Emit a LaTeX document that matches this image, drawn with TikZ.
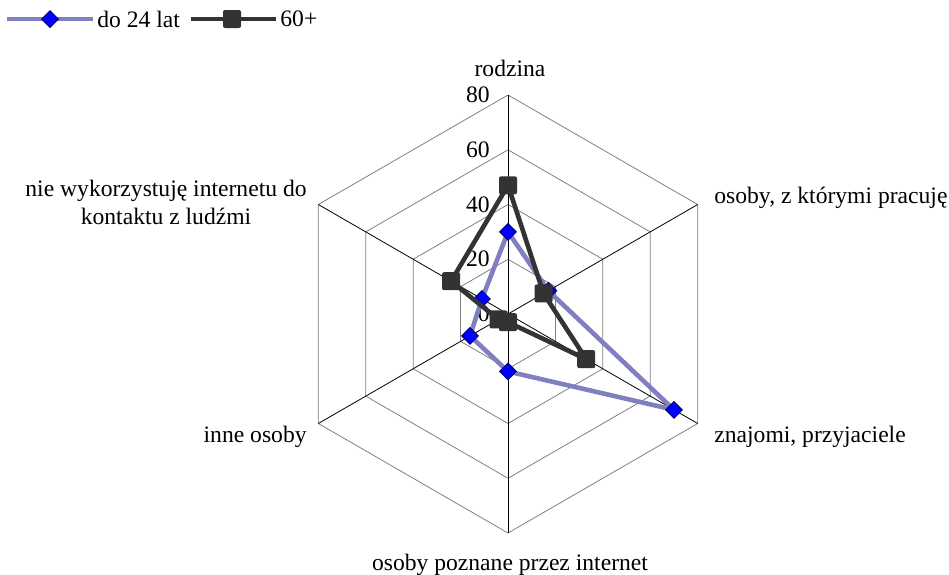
\documentclass[tikz,border=0pt]{standalone}
\usepackage{fontspec}
\setmainfont{Liberation Serif}
\usetikzlibrary{shapes.geometric}

\definecolor{youngline}{RGB}{128,128,192}
\definecolor{youngdot}{RGB}{0,0,255}
\definecolor{youngedge}{RGB}{0,0,128}
\definecolor{oldgray}{RGB}{51,51,51}

\begin{document}
\begin{tikzpicture}[x=0.5pt,y=0.5pt,
    ring/.style={draw=gray, line width=0.4pt},
    spoke/.style={draw=black, line width=0.4pt},
    young/.style={draw=youngline, line width=2.3pt, line join=round},
    old/.style={draw=oldgray, line width=2.3pt, line join=round},
    ydot/.style={diamond, draw=youngedge, fill=youngdot, line width=0.5pt,
      inner sep=0pt, minimum size=8.5pt},
    odot/.style={rectangle, fill=oldgray, rounded corners=1pt,
      inner sep=0pt, minimum size=9pt},
    lbl/.style={font=\fontsize{11.8}{14}\selectfont, inner sep=1pt}]
    \useasboundingbox (0,0) rectangle (949,-574);
    %% Draw the legend
    \coordinate (la) at (7,-19);
    \coordinate (lb) at (93,-19);
    \coordinate (lc) at (191,-19);
    \coordinate (ld) at (276,-19);
    \draw[young] (la) -- (lb);
    \draw[old] (lc) -- (ld);
    \node[ydot] (lm) at (50,-19) {};
    \node[odot] (ln) at (232,-19) {};
    \node[lbl, anchor=west] (lt) at (95,-19) {do 24 lat};
    \node[lbl, anchor=west] (lu) at (278,-19) {60+};
    \begin{scope}[shift={(254pt,-157pt)}, x=1.36875pt, y=1.36875pt]
      %% Draw the axes
      \coordinate (O) at (0,0);
      \coordinate (R) at (90:80);
      \coordinate (P) at (30:80);
      \coordinate (Z) at (-30:80);
      \coordinate (I) at (-90:80);
      \coordinate (N) at (210:80);
      \coordinate (W) at (150:80);
      \draw[ring] (90:20) -- (30:20) -- (-30:20) -- (-90:20) -- (210:20) -- (150:20) -- cycle;
      \draw[ring] (90:40) -- (30:40) -- (-30:40) -- (-90:40) -- (210:40) -- (150:40) -- cycle;
      \draw[ring] (90:60) -- (30:60) -- (-30:60) -- (-90:60) -- (210:60) -- (150:60) -- cycle;
      \draw[ring] (R) -- (P) -- (Z) -- (I) -- (N) -- (W) -- cycle;
      \draw[spoke] (O) -- (R);
      \draw[spoke] (O) -- (P);
      \draw[spoke] (O) -- (Z);
      \draw[spoke] (O) -- (I);
      \draw[spoke] (O) -- (N);
      \draw[spoke] (O) -- (W);
      %% Draw the scale
      \node[lbl, anchor=east, xshift=-8pt] (t0) at (90:0) {0};
      \node[lbl, anchor=east, xshift=-8pt] (t20) at (90:20) {20};
      \node[lbl, anchor=east, xshift=-8pt] (t40) at (90:40) {40};
      \node[lbl, anchor=east, xshift=-8pt] (t60) at (90:60) {60};
      \node[lbl, anchor=east, xshift=-8pt] (t80) at (90:80) {80};
      %% Draw the values
      \coordinate (y1) at (90:30);
      \coordinate (y2) at (30:17);
      \coordinate (y3) at (-30:70);
      \coordinate (y4) at (-90:21);
      \coordinate (y5) at (210:16);
      \coordinate (y6) at (150:11);
      \coordinate (o1) at (90:47);
      \coordinate (o2) at (30:15);
      \coordinate (o3) at (-30:33);
      \coordinate (o4) at (-90:3);
      \coordinate (o5) at (210:4);
      \coordinate (o6) at (150:24);
      %% Draw the series
      \draw[young] (y1) -- (y2) -- (y3) -- (y4) -- (y5) -- (y6) -- cycle;
      \node[ydot] (my1) at (y1) {};
      \node[ydot] (my2) at (y2) {};
      \node[ydot] (my3) at (y3) {};
      \node[ydot] (my4) at (y4) {};
      \node[ydot] (my5) at (y5) {};
      \node[ydot] (my6) at (y6) {};
      \draw[old] (o1) -- (o2) -- (o3) -- (o4) -- (o5) -- (o6) -- cycle;
      \node[odot] (mo1) at (o1) {};
      \node[odot] (mo2) at (o2) {};
      \node[odot] (mo3) at (o3) {};
      \node[odot] (mo4) at (o4) {};
      \node[odot] (mo5) at (o5) {};
      \node[odot] (mo6) at (o6) {};
    \end{scope}
    %% Draw the axis labels
    \node[lbl] (rod) at (510,-68) {rodzina};
    \node[lbl, anchor=west] (pra) at (712,-198) {osoby, z którymi pracuję};
    \node[lbl, anchor=west] (zna) at (712,-437) {znajomi, przyjaciele};
    \node[lbl] (int) at (510,-565) {osoby poznane przez internet};
    \node[lbl, anchor=east] (inn) at (309,-437) {inne osoby};
    \node[lbl, anchor=east, align=center] (nie) at (309,-202)
      {nie wykorzystuję internetu do\\kontaktu z ludźmi};
\end{tikzpicture}
\end{document}
